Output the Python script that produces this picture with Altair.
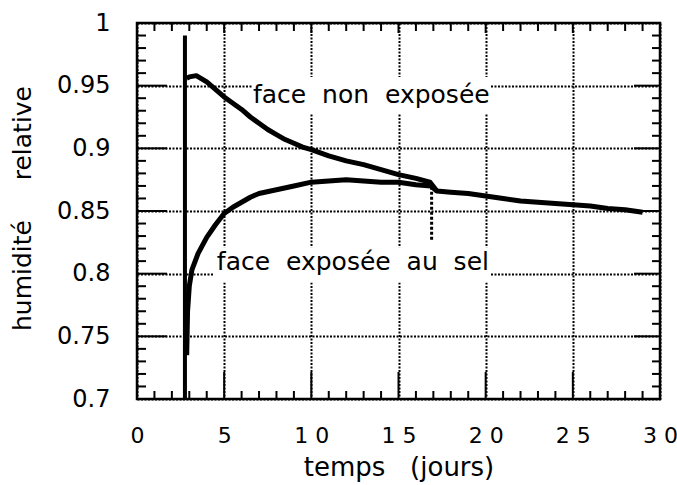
import altair as alt
import pandas as pd

# ---- data ----
upper_x = [2.85, 3.0, 3.4, 4.0, 4.5, 5.0, 5.5, 6.0, 6.5, 7.0, 7.5, 8.0, 8.5, 9.0, 9.5, 10.0,
           11.0, 12.0, 13.0, 14.0, 15.0, 16.0, 16.8, 17.2, 18.0, 19.0, 20.0, 21.0, 22.0,
           23.0, 24.0, 25.0, 26.0, 27.0, 28.0, 29.0]
upper_y = [0.956, 0.957, 0.958, 0.953, 0.947, 0.941, 0.936, 0.931, 0.925, 0.920, 0.915, 0.911,
           0.907, 0.904, 0.901, 0.899, 0.894, 0.890, 0.887, 0.883, 0.879, 0.876, 0.873, 0.866,
           0.865, 0.864, 0.862, 0.860, 0.858, 0.857, 0.856, 0.855, 0.854, 0.852, 0.851, 0.849]

lower_x = [2.85, 2.9, 3.0, 3.15, 3.5, 4.0, 4.5, 5.0, 5.5, 6.0, 6.5, 7.0, 8.0, 9.0, 10.0,
           11.0, 12.0, 13.0, 14.0, 15.0, 16.0, 16.85, 17.2]
lower_y = [0.735, 0.770, 0.790, 0.803, 0.816, 0.829, 0.839, 0.848, 0.853, 0.857, 0.861, 0.864,
           0.867, 0.870, 0.873, 0.874, 0.875, 0.874, 0.873, 0.873, 0.871, 0.870, 0.866]

dip_x = [16.9]
dip_y = [0.827]
dip_y2 = [0.869]

start_x = [2.75]
start_y = [0.70]
start_y2 = [0.99]

NB = "\u00a0"
label_text = ["face" + NB * 2 + "non" + NB * 2 + "exposée",
              "face" + NB * 2 + "exposée" + NB * 2 + "au" + NB * 2 + "sel"]
label_x = [6.65, 4.58]
label_y = [0.936, 0.803]
box_x = [6.6, 4.4]
box_x2 = [20.3, 20.3]
box_y = [0.928, 0.793]
box_y2 = [0.957, 0.821]

x_major = [0, 5, 10, 15, 20, 25, 30]
y_major = [0.7, 0.75, 0.8, 0.85, 0.9, 0.95, 1.0]
x_inner_major = [5, 10, 15, 20, 25]
y_inner_major = [0.75, 0.8, 0.85, 0.9, 0.95]
x_minor = [1, 2, 3, 4, 6, 7, 8, 9, 11, 12, 13, 14, 16, 17, 18, 19, 21, 22, 23, 24, 26, 27, 28, 29]
y_minor = [0.71, 0.72, 0.73, 0.74, 0.76, 0.77, 0.78, 0.79, 0.81, 0.82, 0.83, 0.84,
           0.86, 0.87, 0.88, 0.89, 0.91, 0.92, 0.93, 0.94, 0.96, 0.97, 0.98, 0.99]

W, H = 523, 376
FONT = "DejaVu Sans"

xs = alt.Scale(domain=[0, 30], nice=False, zero=False)
ys = alt.Scale(domain=[0.7, 1.0], nice=False, zero=False)

x_axis = alt.Axis(
    values=x_major, grid=True, gridColor="black", gridDash=[2, 1.5], gridWidth=2, gridOpacity=1,
    ticks=False, tickSize=0, domain=False, labelPadding=26, labelFont=FONT, labelFontSize=22,
    labelColor="black", labelFlush=False,
    labelExpr="length(datum.label) > 1 ? substring(datum.label, 0, 1) + ' ' + substring(datum.label, 1) : datum.label",
    title="temps" + NB * 3 + "(jours)", titleFont=FONT, titleFontSize=26, titleFontWeight="normal",
    titleColor="black", titleY=76, titleBaseline="alphabetic")
y_axis = alt.Axis(
    values=y_major, grid=True, gridColor="black", gridDash=[2, 1.5], gridWidth=2, gridOpacity=1,
    ticks=False, tickSize=0, domain=False, labelPadding=27, labelFont=FONT, labelFontSize=24,
    labelColor="black", labelFlush=False, labelExpr="format(datum.value, '~g')",
    title="humidité" + NB * 5 + "relative", titleFont=FONT, titleFontSize=25, titleFontWeight="normal",
    titleColor="black", titleX=-115, titleY=185, titleBaseline="middle", titleAngle=-90)

curves = pd.DataFrame({
    "t": upper_x + lower_x,
    "h": upper_y + lower_y,
    "s": ["non"] * len(upper_x) + ["sel"] * len(lower_x),
    "o": list(range(len(upper_x))) + list(range(len(lower_x))),
})

lines = alt.Chart(curves).mark_line(strokeWidth=5, color="black", strokeJoin="round").encode(
    x=alt.X("t:Q", scale=xs, axis=x_axis),
    y=alt.Y("h:Q", scale=ys, axis=y_axis),
    detail="s:N",
    order="o:Q",
)

boxes = alt.Chart(pd.DataFrame({"x": box_x, "x2": box_x2, "y": box_y, "y2": box_y2})).mark_rect(
    color="white").encode(
    x=alt.X("x:Q", scale=xs, axis=x_axis), x2="x2", y=alt.Y("y:Q", scale=ys, axis=y_axis), y2="y2")

def xticks(vals, y0, y1):
    return alt.Chart(pd.DataFrame({"v": vals})).mark_rule(color="black", strokeWidth=2).encode(
        x=alt.X("v:Q", scale=xs, axis=x_axis), y=alt.value(y0), y2=alt.value(y1))

def yticks(vals, x0, x1):
    return alt.Chart(pd.DataFrame({"v": vals})).mark_rule(color="black", strokeWidth=2).encode(
        y=alt.Y("v:Q", scale=ys, axis=y_axis), x=alt.value(x0), x2=alt.value(x1))

tick_layers = [
    xticks(x_minor, H, H - 8), xticks(x_inner_major, H, H - 27),
    xticks(x_minor, 0, 8), xticks(x_inner_major, 0, 10),
    yticks(y_minor, 0, 9), yticks(y_inner_major, 0, 30),
    yticks(y_minor, W, W - 8), yticks(y_inner_major, W, W - 26),
]

start = alt.Chart(pd.DataFrame({"x": start_x, "y": start_y, "y2": start_y2})).mark_rule(
    color="black", strokeWidth=4).encode(
    x=alt.X("x:Q", scale=xs, axis=x_axis), y=alt.Y("y:Q", scale=ys, axis=y_axis), y2="y2")

dip = alt.Chart(pd.DataFrame({"x": dip_x, "y": dip_y, "y2": dip_y2})).mark_rule(
    color="black", strokeWidth=3, strokeDash=[3, 2]).encode(
    x=alt.X("x:Q", scale=xs, axis=x_axis), y=alt.Y("y:Q", scale=ys, axis=y_axis), y2="y2")

labels = alt.Chart(pd.DataFrame({"x": label_x, "y": label_y, "txt": label_text})).mark_text(
    font=FONT, fontSize=25, align="left", baseline="alphabetic", color="black").encode(
    x=alt.X("x:Q", scale=xs, axis=x_axis), y=alt.Y("y:Q", scale=ys, axis=y_axis), text="txt:N")

chart = alt.layer(boxes, *tick_layers, start, dip, lines, labels).properties(
    width=W, height=H,
    background="white",
    autosize=alt.AutoSizeParams(type="none"),
    padding={"left": 137, "top": 23, "right": 17, "bottom": 86},
).configure_view(stroke="black", strokeWidth=2.5)

chart.save("out.html", embed_options={"renderer": "svg", "actions": False})
